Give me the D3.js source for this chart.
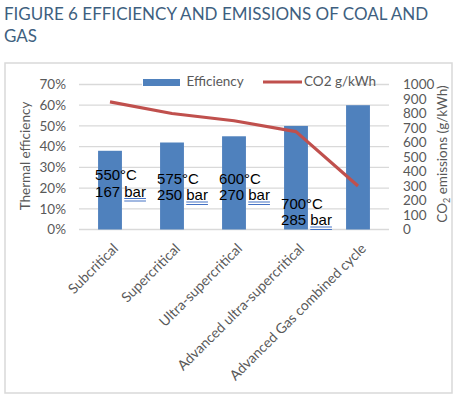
<!DOCTYPE html>
<html>
<head>
<meta charset="utf-8">
<script src="https://cdn.jsdelivr.net/npm/d3@7"></script>
<style>
  body { margin: 0; background: #fff; }
  .axis text { font-family: Lato, "Open Sans", sans-serif; font-size: 13.5px; fill: #595959; }
  .note { font-family: "Liberation Sans", Arial, sans-serif; font-size: 15px; fill: #000; }
</style>
</head>
<body>
<div id="chart"></div>
<script>
var categories = ["Subcritical", "Supercritical", "Ultra-supercritical", "Advanced ultra-supercritical", "Advanced Gas combined cycle"];
var efficiency = [0.38, 0.42, 0.45, 0.50, 0.60];
var co2 = [880, 800, 750, 675, 300];
var leftTicks = [0, 0.1, 0.2, 0.3, 0.4, 0.5, 0.6, 0.7];
var rightTicks = [0, 100, 200, 300, 400, 500, 600, 700, 800, 900, 1000];
var temps = ["550°C", "575°C", "600°C", "700°C"];
var pressures = ["167", "250", "270", "285"];

var W = 456, H = 396;
var plot = {left: 79, right: 389, top: 84.5, bottom: 229.5};

var svg = d3.select("#chart").append("svg")
    .attr("width", W)
    .attr("height", H);

// title
var title = svg.append("text")
    .attr("x", 4)
    .attr("y", 20)
    .style("font-family", "Lato, 'Open Sans', sans-serif")
    .style("font-size", "17px")
    .style("fill", "#3E5F80");
title.append("tspan").attr("x", 4).attr("y", 20).text("FIGURE 6 EFFICIENCY AND EMISSIONS OF COAL AND");
title.append("tspan").attr("x", 4).attr("y", 42).text("GAS");

// chart frame
svg.append("rect")
    .attr("x", 5).attr("y", 63)
    .attr("width", 447).attr("height", 330)
    .attr("fill", "none")
    .attr("stroke", "#D9D9D9")
    .attr("stroke-width", 1.5);

var x = d3.scaleBand()
    .domain(categories)
    .range([plot.left, plot.right])
    .paddingInner(0.615)
    .paddingOuter(0.3075);

var yL = d3.scaleLinear().domain([0, 0.7]).range([plot.bottom, plot.top]);
var yR = d3.scaleLinear().domain([0, 1000]).range([plot.bottom, plot.top]);

var cx = function(d){ return x(d) + x.bandwidth() / 2; };

// gridlines
svg.append("g").selectAll("line")
    .data(leftTicks)
    .enter().append("line")
    .attr("x1", plot.left).attr("x2", plot.right)
    .attr("y1", function(d){ return yL(d); })
    .attr("y2", function(d){ return yL(d); })
    .attr("stroke", "#D9D9D9")
    .attr("stroke-width", 1.3);

// bars
svg.append("g").selectAll("rect")
    .data(categories)
    .enter().append("rect")
    .attr("x", function(d){ return x(d); })
    .attr("y", function(d, i){ return yL(efficiency[i]); })
    .attr("width", x.bandwidth())
    .attr("height", function(d, i){ return yL(0) - yL(efficiency[i]); })
    .attr("fill", "#4F81BD");

// co2 line
var line = d3.line()
    .x(function(d, i){ return cx(categories[i]); })
    .y(function(d){ return yR(d); });

svg.append("path")
    .datum(co2)
    .attr("d", line)
    .attr("fill", "none")
    .attr("stroke", "#C0504D")
    .attr("stroke-width", 3.2)
    .attr("stroke-linejoin", "round");

// axes
var axL = svg.append("g")
    .attr("class", "axis")
    .attr("transform", "translate(" + plot.left + ",0)")
    .call(d3.axisLeft(yL).tickValues(leftTicks).tickFormat(d3.format(".0%")).tickSize(0).tickPadding(13));
axL.select(".domain").remove();

var axR = svg.append("g")
    .attr("class", "axis")
    .attr("transform", "translate(" + plot.right + ",0)")
    .call(d3.axisRight(yR).tickValues(rightTicks).tickFormat(d3.format("d")).tickSize(0).tickPadding(14));
axR.select(".domain").remove();

var axX = svg.append("g")
    .attr("class", "axis")
    .attr("transform", "translate(0," + plot.bottom + ")")
    .call(d3.axisBottom(x).tickSize(0).tickPadding(0));
axX.select(".domain").remove();
axX.selectAll(".tick text")
    .style("font-size", "14px")
    .attr("text-anchor", "end")
    .attr("transform", "translate(2,13) rotate(-45)")
    .attr("dy", "0.71em")
    .attr("y", 0);

// axis titles
svg.append("text")
    .attr("transform", "translate(30,156) rotate(-90)")
    .attr("text-anchor", "middle")
    .style("font-family", "Lato, 'Open Sans', sans-serif")
    .style("font-size", "13.5px")
    .style("fill", "#595959")
    .text("Thermal efficiency");

var rt = svg.append("text")
    .attr("transform", "translate(447,154) rotate(-90)")
    .attr("text-anchor", "middle")
    .style("font-family", "Lato, 'Open Sans', sans-serif")
    .style("font-size", "13.5px")
    .style("fill", "#595959");
rt.append("tspan").text("CO");
rt.append("tspan").attr("dy", 3).style("font-size", "9px").text("2");
rt.append("tspan").attr("dy", -3).text(" emissions (g/kWh)");

// legend
var lg = svg.append("g");
lg.append("rect").attr("x", 142).attr("y", 74).attr("width", 210).attr("height", 17).attr("fill", "#fff");
lg.append("rect").attr("x", 143).attr("y", 79).attr("width", 37).attr("height", 7).attr("fill", "#4F81BD");
lg.append("text").attr("x", 186.5).attr("y", 86)
    .style("font-family", "Lato, 'Open Sans', sans-serif").style("font-size", "13.5px").style("fill", "#595959")
    .text("Efficiency");
lg.append("line").attr("x1", 263).attr("x2", 302).attr("y1", 82).attr("y2", 82)
    .attr("stroke", "#C0504D").attr("stroke-width", 3.2);
lg.append("text").attr("x", 304).attr("y", 86)
    .style("font-family", "Lato, 'Open Sans', sans-serif").style("font-size", "13.5px").style("fill", "#595959")
    .text("CO2 g/kWh");

// steam condition notes (text boxes placed over the coal bars)
var noteY = [180, 183.5, 183.5, 208.5];
var notes = svg.append("g").selectAll("g")
    .data(temps)
    .enter().append("g")
    .attr("transform", function(d, i){ return "translate(" + (x(categories[i]) - 3) + "," + noteY[i] + ")"; });

notes.append("text").attr("class", "note").attr("x", 0).attr("y", 0).text(function(d){ return d; });
var second = notes.append("text").attr("class", "note").attr("x", 0).attr("y", 16.5);
second.append("tspan").text(function(d, i){ return pressures[i] + " "; });
second.append("tspan").attr("class", "bar").text("bar");

notes.each(function(){
    var g = d3.select(this);
    var t = g.select("tspan.bar").node();
    var start = t.getStartPositionOfChar(0).x;
    var end = t.getEndPositionOfChar(2).x;
    [18.5, 21].forEach(function(yy){
        g.append("line")
            .attr("x1", start).attr("x2", end)
            .attr("y1", yy).attr("y2", yy)
            .attr("stroke", "#4472C4").attr("stroke-width", 1);
    });
});
</script>
</body>
</html>
